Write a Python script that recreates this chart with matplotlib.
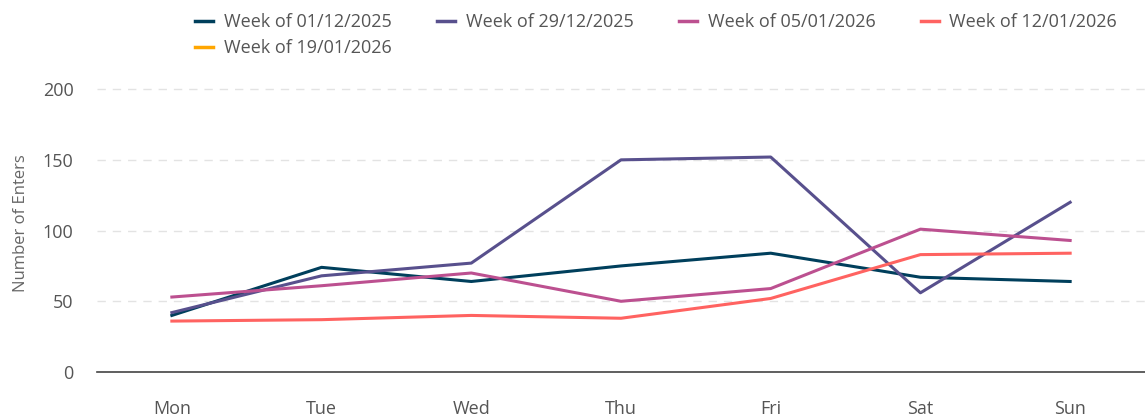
import matplotlib.pyplot as plt
from matplotlib.lines import Line2D

days = ['Mon', 'Tue', 'Wed', 'Thu', 'Fri', 'Sat', 'Sun']
week_labels = ['Week of 01/12/2025', 'Week of 29/12/2025', 'Week of 05/01/2026',
               'Week of 12/01/2026', 'Week of 19/01/2026']
wk_0112 = [40, 74, 64, 75, 84, 67, 64]
wk_2912 = [42, 68, 77, 150, 152, 56, 120]
wk_0501 = [53, 61, 70, 50, 59, 101, 93]
wk_1201 = [36, 37, 40, 38, 52, 83, 84]
wk_1901 = [None] * 7
colors = ['#003f5c', '#58508d', '#bc5090', '#ff6361', '#ffa600']

plt.rcParams['font.family'] = ['Open Sans', 'DejaVu Sans']

fig = plt.figure(figsize=(11.45, 4.17), dpi=100)
ax = fig.add_axes([97 / 1145, 45 / 417, 1048 / 1145, 297 / 417])

series = [wk_0112, wk_2912, wk_0501, wk_1201, wk_1901]
x = list(range(len(days)))
for vals, c in zip(series, colors):
    pts = [(i, v) for i, v in zip(x, vals) if v is not None]
    if pts:
        ax.plot([p[0] for p in pts], [p[1] for p in pts], color=c, lw=2.2)

ax.set_xlim(-0.5, 6.5)
ax.set_ylim(0, 210)
ax.set_yticks([0, 50, 100, 150, 200])
ax.set_xticks(x)
ax.set_xticklabels(days)
ax.tick_params(length=0, labelsize=13, labelcolor='#555555')
ax.tick_params(axis='x', pad=20)
ax.tick_params(axis='y', pad=17)
ax.grid(axis='y', color='#e3e3e3', linestyle=(0, (6, 5)), lw=1)
ax.set_axisbelow(True)
for s in ['top', 'right', 'left']:
    ax.spines[s].set_visible(False)
ax.spines['bottom'].set_color('#444444')
ax.spines['bottom'].set_linewidth(1.2)
ax.set_ylabel('Number of Enters', fontsize=12, color='#666666', labelpad=10)

# legend is filled column by column, so reorder to read row by row
order = [0, 4, 1, 2, 3]
handles = [Line2D([], [], color=colors[i], lw=2.5) for i in order]
labels = [week_labels[i] for i in order]
fig.legend(handles, labels, loc='upper left', bbox_to_anchor=(179 / 1145, 1.007),
           ncol=4, frameon=False, fontsize=13, labelcolor='#555555',
           handlelength=1.0, handletextpad=0.6, columnspacing=2.5, labelspacing=0.42)

fig.savefig('out.png', dpi=100)
